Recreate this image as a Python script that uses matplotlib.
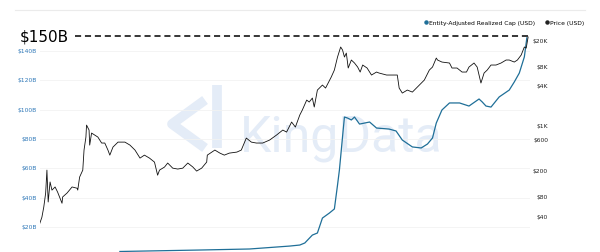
import matplotlib
matplotlib.use('Agg')
import matplotlib.pyplot as plt
from matplotlib.lines import Line2D
import numpy as np

plt.rc('font', family='DejaVu Sans')

# price (USD)
price_year = [2013.13, 2013.19, 2013.22, 2013.25, 2013.27, 2013.29, 2013.32, 2013.35, 2013.40, 2013.44,
              2013.51, 2013.52, 2013.59, 2013.67, 2013.75, 2013.76, 2013.79, 2013.84, 2013.86, 2013.89,
              2013.90, 2013.94, 2013.95, 2013.98, 2014.03, 2014.08, 2014.14, 2014.19, 2014.24, 2014.27,
              2014.32, 2014.40, 2014.51, 2014.59, 2014.67, 2014.75, 2014.82, 2014.90, 2014.98, 2015.03,
              2015.06, 2015.14, 2015.19, 2015.27, 2015.35, 2015.43, 2015.51, 2015.59, 2015.65, 2015.73,
              2015.81, 2015.82, 2015.94, 2016.02, 2016.09, 2016.17, 2016.29, 2016.36, 2016.44, 2016.52,
              2016.60, 2016.70, 2016.81, 2016.92, 2017.02, 2017.08, 2017.16, 2017.22, 2017.29, 2017.33,
              2017.40, 2017.44, 2017.49, 2017.52, 2017.57, 2017.65, 2017.70, 2017.75, 2017.79, 2017.84,
              2017.89, 2017.94, 2017.97, 2018.00, 2018.03, 2018.06, 2018.11, 2018.16, 2018.21, 2018.25,
              2018.29, 2018.36, 2018.43, 2018.51, 2018.55, 2018.67, 2018.79, 2018.84, 2018.87, 2018.92,
              2019.00, 2019.08, 2019.16, 2019.19, 2019.27, 2019.35, 2019.40, 2019.46, 2019.48, 2019.55,
              2019.67, 2019.71, 2019.79, 2019.87, 2019.94, 2019.98, 2020.06, 2020.11, 2020.16, 2020.17,
              2020.22, 2020.27, 2020.33, 2020.41, 2020.49, 2020.57, 2020.62, 2020.70, 2020.75, 2020.81,
              2020.86, 2020.89, 2020.92]
price_usd = [26.5, 39, 56, 92, 207, 67, 136, 102, 114, 95,
             64, 80, 92, 114, 109, 102, 162, 207, 421, 667,
             1020, 855, 502, 769, 716, 667, 540, 540, 421, 352,
             468, 558, 558, 502, 421, 317, 352, 317, 275, 173,
             207, 231, 266, 222, 215, 222, 266, 231, 200, 222,
             275, 352, 421, 378, 352, 378, 392, 421, 644, 558,
             540, 540, 600, 716, 855, 796, 1135, 951, 1455, 1734,
             2472, 2305, 2655, 1932, 3524, 4207, 3784, 4677, 5585, 7161,
             11350, 16180, 14550, 11350, 13060, 7690, 10210, 9180, 7960, 6670,
             8550, 7690, 6000, 6670, 6440, 6000, 6000, 6000, 3784, 3170,
             3524, 3280, 3917, 4207, 5023, 7161, 7960, 10940, 10210, 9500,
             9180, 7690, 7690, 6670, 6670, 7960, 9180, 7960, 5023, 4519,
             6440, 7161, 8550, 8550, 9180, 10210, 10210, 9500, 10210, 12190,
             16180, 15600, 23070]

# entity-adjusted realized cap (billion USD), left axis
cap_year = [2014.43, 2015.70, 2016.49, 2017.13, 2017.29, 2017.37, 2017.49, 2017.57, 2017.65, 2017.76,
            2017.84, 2017.89, 2017.92, 2017.95, 2017.98, 2018.00, 2018.05, 2018.11, 2018.16, 2018.24,
            2018.32, 2018.40, 2018.51, 2018.71, 2018.82, 2018.92, 2019.08, 2019.22, 2019.32, 2019.40,
            2019.46, 2019.55, 2019.67, 2019.83, 2019.98, 2020.14, 2020.19, 2020.25, 2020.33, 2020.46,
            2020.62, 2020.70, 2020.78, 2020.86, 2020.90]
cap_bn = [3.3, 4.3, 5.0, 7.0, 7.7, 9.1, 14.5, 15.9, 26.1, 29.5,
          32.3, 48.6, 58.9, 72.5, 86.2, 95.0, 94.3, 93.0, 95.0, 90.2,
          90.9, 91.6, 87.5, 86.8, 85.5, 79.3, 74.6, 73.9, 76.6, 80.7,
          90.9, 99.8, 104.6, 104.6, 102.5, 107.3, 105.3, 102.5, 101.8, 108.7,
          113.4, 118.9, 125.0, 136.0, 149.0]

left_ticks = [20, 40, 60, 80, 100, 120, 140]
left_labels = ['$%dB' % v for v in left_ticks]
right_ticks = [40, 80, 200, 600, 1000, 4000, 8000, 20000]
right_labels = ['$40', '$80', '$200', '$600', '$1K', '$4K', '$8K', '$20K']
target = 150

blue = '#1f6f98'
wm = '#e4ecf7'
W, H = 600, 252

fig = plt.figure(figsize=(6.0, 2.52), dpi=100)
ax = fig.add_axes([40 / W, 0, 490 / W, 242 / H])
ax2 = ax.twinx()
ax.patch.set_visible(False)
ax2.patch.set_visible(False)

# watermark: logo strokes + word
def px(x, y):
    return x / W, 1 - y / H

for xs, ys in [((217, 217), (85, 148)), ((205, 172, 205), (100, 124, 148))]:
    pts = [px(a, b) for a, b in zip(xs, ys)]
    fig.add_artist(Line2D([p[0] for p in pts], [p[1] for p in pts], color=wm,
                          lw=7, solid_capstyle='butt', zorder=0))
ax.text(0.615, 0.47, 'KingData', transform=ax.transAxes, fontsize=36, family='Roboto',
        color=wm, ha='center', va='center', zorder=0)

ax.plot(cap_year, cap_bn, color=blue, lw=0.9, zorder=3)
ax2.plot(price_year, price_usd, color='#111111', lw=0.6, zorder=3)

ax.set_xlim(2013.16, 2020.95)
ax.set_ylim(2.95, 168)
ax2.set_yscale('log')
ax2.set_ylim(11.4, 60000)

ax.set_yticks(left_ticks)
ax.set_yticklabels(left_labels)
ax2.set_yticks(right_ticks)
ax2.set_yticklabels(right_labels)
ax2.minorticks_off()
ax.set_xticks([])

ax.tick_params(axis='y', length=0, pad=2, labelsize=4.3, labelcolor='#2f78b8')
ax2.tick_params(axis='y', length=0, pad=13, labelsize=4.3, labelcolor='#222222')
for t in ax2.get_yticklabels():
    t.set_horizontalalignment('right')

for s in ax.spines.values():
    s.set_visible(False)
for s in ax2.spines.values():
    s.set_visible(False)
ax.grid(axis='y', color='#f2f2f2', lw=0.6)
ax.set_axisbelow(True)

# target line
ax.axhline(target, xmin=(75 - 40) / 490, xmax=1.0, color='black', lw=1.1,
           dashes=(4, 2.5), zorder=4)
fig.text(20 / W, 1 - 37 / H, '$150B', fontsize=11, va='center', ha='left', color='black')

# top frame line
fig.add_artist(Line2D([15 / W, 585 / W], [1 - 10 / H, 1 - 10 / H], color='#ebebeb', lw=0.8))

handles = [Line2D([], [], ls='none', marker='o', ms=2.2, color=blue),
           Line2D([], [], ls='none', marker='o', ms=2.2, color='#222222')]
fig.legend(handles, ['Entity-Adjusted Realized Cap (USD)', 'Price (USD)'], ncol=2,
           loc='center right', bbox_to_anchor=(584 / W, 1 - 23 / H), frameon=False,
           fontsize=4.3, handlelength=0.6, handletextpad=0.2, columnspacing=1.6,
           borderpad=0, borderaxespad=0)

fig.savefig('out.png', dpi=100, facecolor='white')
